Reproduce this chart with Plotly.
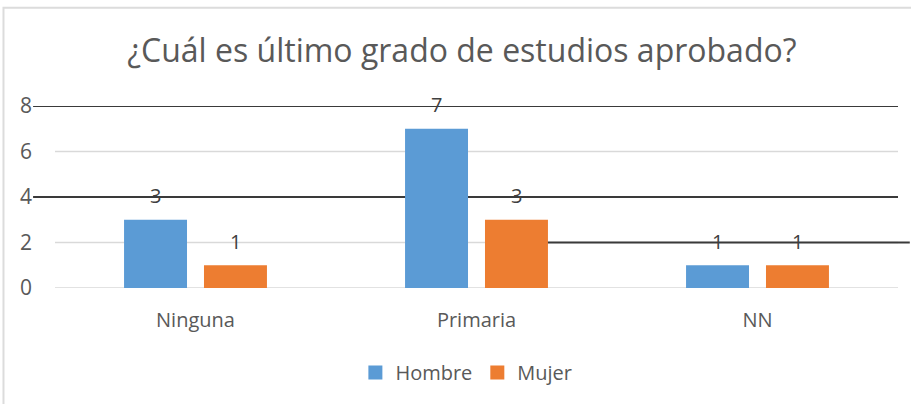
import plotly.graph_objects as go

categories = ["Ninguna", "Primaria", "NN"]
hombre = [3, 7, 1]
mujer = [1, 3, 1]
series_names = ["Hombre", "Mujer"]
y_ticks = [0, 2, 4, 6, 8]
title_text = "¿Cuál es último grado de estudios aprobado?"
# dark hand-drawn guide lines: (y value, paper x start, paper x end)
guide_lines = [(8, -0.026, 1.0), (4, -0.026, 1.0), (2, 0.55, 1.014)]

BLUE = "#5B9BD5"
ORANGE = "#ED7D31"
FONT = "Open Sans, sans-serif"

fig = go.Figure()
for name, vals, color in ((series_names[0], hombre, BLUE), (series_names[1], mujer, ORANGE)):
    fig.add_trace(go.Bar(x=categories, y=vals, name=name, showlegend=False,
                         legendgroup=name,
                         marker=dict(color=color, line=dict(width=0))))
for name, color in ((series_names[0], BLUE), (series_names[1], ORANGE)):
    fig.add_trace(go.Scatter(x=[None], y=[None], mode="markers", name=name,
                             legendgroup=name,
                             marker=dict(symbol="square", size=14, color=color)))

annotations = []
for vals, shift in ((hombre, -40), (mujer, 40)):
    for c, v in zip(categories, vals):
        annotations.append(dict(x=c, y=v, xref="x", yref="y", text=str(v),
                                showarrow=False, xshift=shift, yshift=24,
                                yanchor="middle",
                                font=dict(family=FONT, size=20, color="#404040")))

shapes = []
# light gridlines (drawn as shapes so the dark guide lines sit on top)
for yv in y_ticks:
    shapes.append(dict(type="line", xref="paper", yref="y", x0=0, x1=1,
                       y0=yv, y1=yv, layer="below",
                       line=dict(color="#D9D9D9", width=1.5)))
for yv, x0, x1 in guide_lines:
    shapes.append(dict(type="line", xref="paper", yref="y", x0=x0, x1=x1,
                       y0=yv, y1=yv, layer="below",
                       line=dict(color="#3a3a3a", width=2)))
# outer chart border
shapes.append(dict(type="rect", xref="paper", yref="paper",
                   x0=-0.0611, x1=1.03, y0=-0.7, y1=1.5405,
                   line=dict(color="#dcdcdc", width=2), layer="below"))

fig.update_layout(
    width=911, height=404,
    margin=dict(l=55, r=13, t=106, b=116),
    paper_bgcolor="white", plot_bgcolor="rgba(0,0,0,0)",
    barmode="group", bargap=0.431, bargroupgap=0.2125,
    title=dict(text=title_text, x=0.507, xref="container", xanchor="center",
               y=1 - 51 / 404, yref="container", yanchor="middle",
               font=dict(family=FONT, size=32, color="#595959")),
    font=dict(family=FONT, color="#595959"),
    xaxis=dict(showgrid=False, showline=False, zeroline=False, ticks="",
               tickfont=dict(family=FONT, size=20, color="#595959"),
               ticklabelstandoff=18),
    yaxis=dict(range=[0, 8], tickvals=y_ticks, showgrid=False,
               zeroline=False, showline=False,
               ticks="", tickfont=dict(family=FONT, size=21, color="#595959"),
               ticklabelstandoff=22),
    legend=dict(orientation="h", x=0.488, xanchor="center", y=-0.464,
                yanchor="middle", font=dict(family=FONT, size=20, color="#595959"),
                itemwidth=30, tracegroupgap=0),
    annotations=annotations,
    shapes=shapes,
    showlegend=True,
)

fig.write_html("out.html", config={"displayModeBar": False},
               post_script="document.body.style.margin='0';document.body.style.padding='0';")
